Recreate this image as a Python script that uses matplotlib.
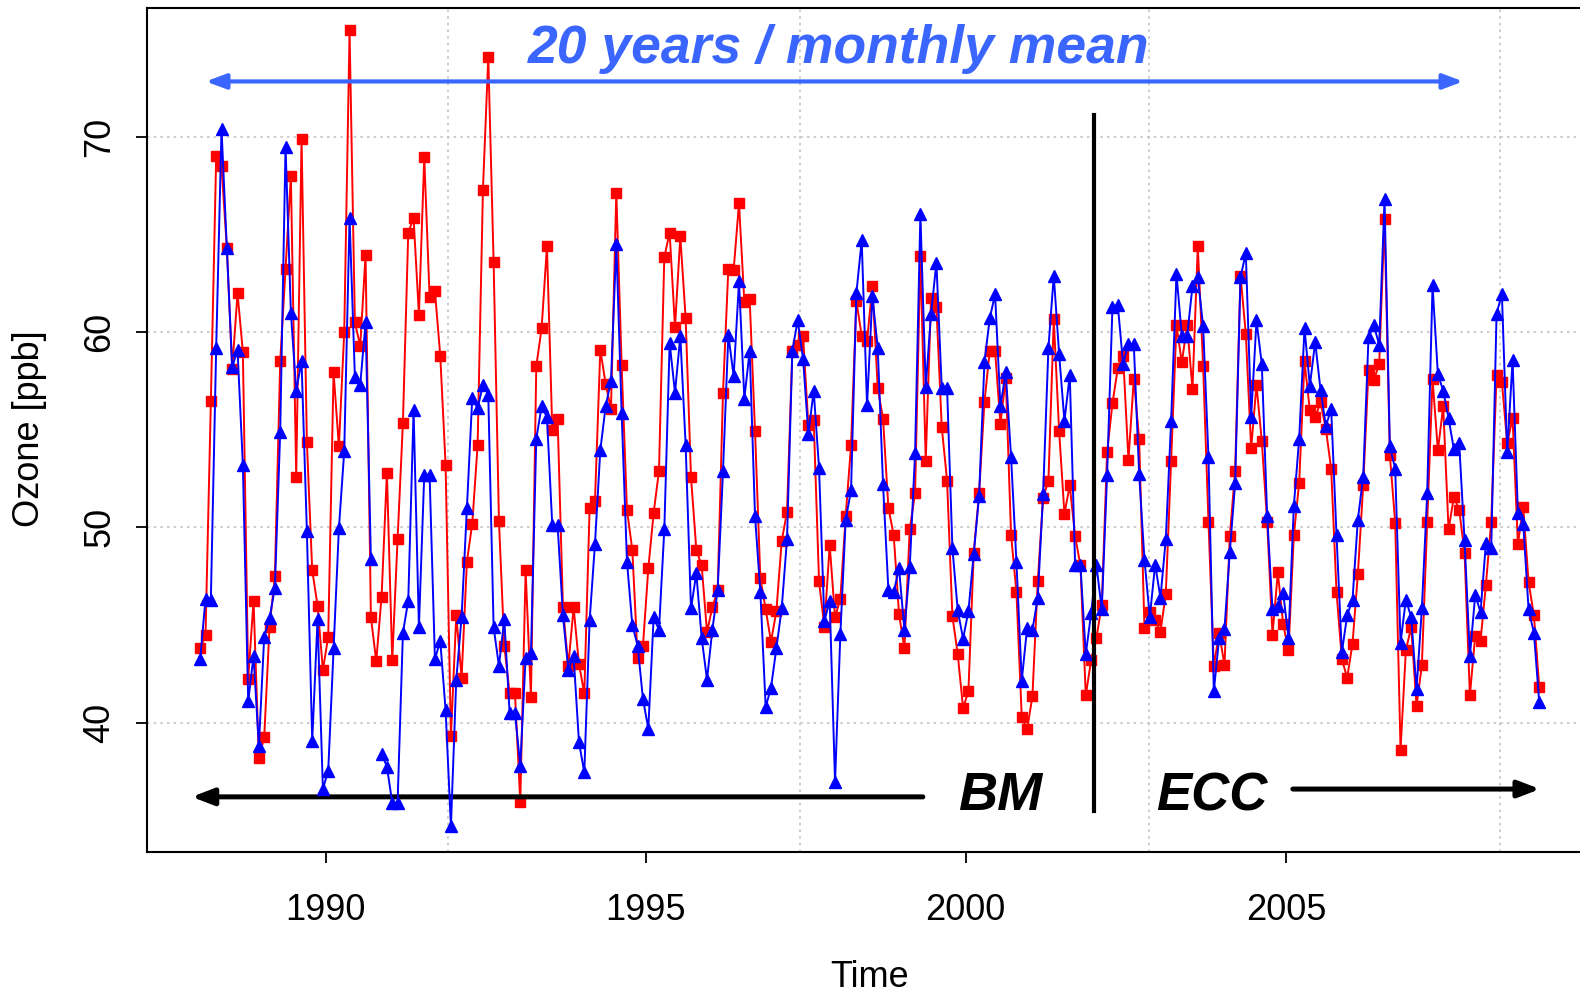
import numpy as np
import matplotlib
matplotlib.use("Agg")
import matplotlib.pyplot as plt

plt.rcParams['font.family'] = ['Liberation Sans', 'DejaVu Sans']

# monthly mean ozone, Jan 1988 - Dec 2008
start_year = 1988
red_ppb = [
    43.8, 44.5, 56.45, 69.0, 68.5, 64.3, 58.1, 62.0, 59.0, 42.25, 46.25, 38.2,
    39.25, 44.9, 47.5, 58.5, 63.25, 68.0, 52.6, 69.9, 54.35, 47.8, 46.0, 42.7,
    44.4, 57.95, 54.15, 60.0, 75.45, 60.5, 59.3, 63.95, 45.4, 43.15, 46.45, 52.8,
    43.2, 49.4, 55.35, 65.1, 65.85, 60.9, 68.95, 61.8, 62.1, 58.8, 53.2, 39.3,
    45.5, 42.3, 48.25, 50.2, 54.2, 67.3, 74.1, 63.6, 50.35, 43.95, 41.5, 41.5,
    35.95, 47.8, 41.3, 58.25, 60.2, 64.4, 55.0, 55.55, 45.9, 42.9, 45.9, 43.0,
    41.5, 51.0, 51.35, 59.1, 57.35, 56.05, 67.15, 58.3, 50.9, 48.85, 43.3, 43.95,
    47.9, 50.75, 52.9, 63.85, 65.1, 60.25, 64.9, 60.7, 52.6, 48.85, 48.05, 44.65,
    45.9, 46.8, 56.9, 63.25, 63.2, 66.6, 61.55, 61.7, 54.95, 47.4, 45.8, 44.15,
    45.7, 49.3, 50.8, 59.05, 59.35, 59.8, 55.25, 55.5, 47.25, 44.9, 49.1, 45.4,
    46.35, 50.6, 54.2, 61.6, 59.8, 59.55, 62.35, 57.15, 55.55, 51.0, 49.6, 45.55,
    43.8, 49.9, 51.75, 63.9, 53.4, 61.75, 61.3, 55.15, 52.4, 45.45, 43.5, 40.75,
    41.6, 48.7, 51.75, 56.4, 59.05, 59.05, 55.3, 57.65, 49.6, 46.7, 40.3, 39.65,
    41.35, 47.25, 51.5, 52.4, 60.65, 54.95, 50.7, 52.15, 49.55, 48.05, 41.4, 43.2,
    44.35, 46.05, 53.85, 56.35, 58.15, 58.8, 53.45, 57.6, 54.55, 44.85, 45.65, 45.25,
    44.65, 46.6, 53.4, 60.35, 58.45, 60.35, 57.1, 64.4, 58.25, 50.3, 42.9, 44.6,
    42.95, 49.55, 52.9, 62.9, 59.9, 54.05, 57.3, 54.4, 50.3, 44.5, 47.7, 45.05,
    43.7, 49.6, 52.3, 58.5, 56.0, 55.65, 56.4, 55.05, 53.0, 46.7, 43.25, 42.3,
    44.05, 47.6, 52.15, 58.05, 57.55, 58.35, 65.8, 53.7, 50.25, 38.6, 43.7, 44.9,
    40.85, 42.95, 50.3, 57.6, 53.95, 56.2, 49.9, 51.55, 50.9, 48.7, 41.4, 44.45,
    44.2, 47.05, 50.3, 57.8, 57.45, 54.3, 55.6, 49.15, 51.05, 47.2, 45.5, 41.85,
]
blue_ppb = [
    43.25, 46.35, 46.3, 59.2, 70.4, 64.3, 58.2, 59.1, 53.2, 41.1, 43.4, 38.8,
    44.4, 45.35, 46.9, 54.9, 69.5, 61.0, 57.0, 58.5, 49.8, 39.05, 45.3, 36.6,
    37.55, 43.8, 49.95, 53.9, 65.85, 57.7, 57.3, 60.5, 48.4, np.nan, 38.4, 37.75,
    35.9, 35.9, 44.6, 46.25, 56.0, 44.9, 52.7, 52.7, 43.25, 44.2, 40.65, 34.7,
    42.2, 45.4, 51.0, 56.65, 56.1, 57.3, 56.8, 44.9, 42.9, 45.3, 40.5, 40.5,
    37.8, 43.3, 43.55, 54.55, 56.2, 55.65, 50.1, 50.1, 45.5, 42.7, 43.4, 39.0,
    37.45, 45.25, 49.15, 53.95, 56.2, 57.5, 64.5, 55.85, 48.25, 45.0, 43.95, 41.2,
    39.7, 45.4, 44.75, 49.9, 59.45, 56.9, 59.8, 54.2, 45.85, 47.65, 44.35, 42.2,
    44.75, 46.8, 52.9, 59.85, 57.75, 62.6, 56.6, 59.05, 50.6, 46.7, 40.8, 41.8,
    43.8, 45.85, 49.4, 59.05, 60.6, 58.65, 54.8, 57.0, 53.05, 45.2, 46.25, 36.95,
    44.55, 50.4, 51.9, 62.0, 64.7, 56.25, 61.85, 59.2, 52.2, 46.8, 46.7, 47.9,
    44.75, 47.95, 53.8, 66.05, 57.2, 60.95, 63.55, 57.15, 57.15, 48.95, 45.75, 44.3,
    45.7, 48.65, 51.6, 58.45, 60.7, 61.95, 56.2, 57.95, 53.6, 48.25, 42.15, 44.85,
    44.75, 46.4, 51.7, 59.2, 62.9, 58.9, 55.45, 57.8, 48.1, 48.05, 43.5, 45.6,
    48.05, 45.8, 52.7, 61.3, 61.4, 58.35, 59.4, 59.4, 52.75, 48.35, 45.4, 48.1,
    46.4, 49.4, 55.45, 63.0, 59.8, 59.8, 62.35, 62.8, 60.3, 53.6, 41.6, 44.35,
    44.8, 48.75, 52.25, 62.8, 64.05, 55.65, 60.6, 58.35, 50.6, 45.8, 46.0, 46.65,
    44.35, 51.1, 54.55, 60.2, 57.25, 59.5, 57.05, 55.2, 56.05, 49.6, 43.6, 45.5,
    46.3, 50.4, 52.6, 59.75, 60.35, 59.35, 66.8, 54.15, 53.0, 44.1, 46.3, 45.4,
    41.7, 45.85, 51.75, 62.4, 57.85, 57.0, 55.6, 54.0, 54.3, 49.35, 43.4, 46.55,
    45.65, 49.2, 48.95, 60.95, 61.95, 53.85, 58.55, 50.75, 50.2, 45.8, 44.6, 41.05,
]

x_ticks = [1990, 1995, 2000, 2005]
y_ticks = [40, 50, 60, 70]
x_grid = [1991.92, 1997.41, 2002.87, 2008.34]
switch_year = 2002.0

# time axis: mid-month positions
t = start_year + (np.arange(len(red_ppb)) + 0.5) / 12.0

fig = plt.figure(figsize=(15.8, 9.92), dpi=100)
ax = fig.add_axes([0.0928, 0.1416, 0.9153, 0.8503])

# dotted grid
grid_style = dict(color='#c4c4c4', lw=1.2, linestyle=(0, (1.5, 2.5)), zorder=0)
for y in y_ticks:
    ax.axhline(y, **grid_style)
for x in x_grid:
    ax.axvline(x, **grid_style)

ax.plot(t, red_ppb, color='#ff0000', lw=1.4, marker='s', ms=6.7,
        mec='#ff0000', mfc='#ff0000', zorder=3)
ax.plot(t, blue_ppb, color='#0000ff', lw=1.4, marker='^', ms=8.6,
        mec='#0000ff', mfc='#0000ff', zorder=4)

ax.set_xlim(1987.205, 2009.795)
ax.set_ylim(33.4, 76.6)

# BM / ECC annotation
ax.plot([switch_year, switch_year], [35.47, 71.13], color='black', lw=3, zorder=5)
ax.annotate('', xy=(1987.91, 36.2), xytext=(1999.33, 36.2),
            arrowprops=dict(arrowstyle='-|>,head_length=1.3,head_width=0.5',
                            lw=3.6, color='black', shrinkA=0, shrinkB=0))
ax.annotate('', xy=(2008.97, 36.6), xytext=(2005.11, 36.6),
            arrowprops=dict(arrowstyle='-|>,head_length=1.3,head_width=0.5',
                            lw=3.6, color='black', shrinkA=0, shrinkB=0))
ax.text(2000.54, 35.52, 'BM', fontsize=39, fontweight='bold', style='italic',
        ha='center', va='baseline')
ax.text(2003.84, 35.52, 'ECC', fontsize=38, fontweight='bold', style='italic',
        ha='center', va='baseline')

# 20-year span arrow and title
ax.annotate('', xy=(1988.13, 72.84), xytext=(2007.77, 72.84),
            arrowprops=dict(arrowstyle='<|-|>,head_length=1.2,head_width=0.45',
                            lw=3, color='#3a66ff', shrinkA=0, shrinkB=0))
ax.text(1998.02, 73.76, '20 years / monthly mean', fontsize=38.5,
        fontweight='bold', style='italic', color='#3a66ff',
        ha='center', va='baseline')

ax.set_xticks(x_ticks)
ax.set_xticklabels([str(v) for v in x_ticks])
ax.set_yticks(y_ticks)
ax.set_yticklabels([str(v) for v in y_ticks], rotation=90, va='center')
ax.tick_params(axis='both', labelsize=26, length=8, width=1.3, direction='out')
ax.tick_params(axis='x', pad=22)
ax.tick_params(axis='y', pad=13)

for s in ax.spines.values():
    s.set_linewidth(1.5)

fig.text(30 / 1580, 1 - 429 / 992, 'Ozone [ppb]', fontsize=26, rotation=90,
         ha='center', va='center')
fig.text(0.5505, 1 - 987 / 992, 'Time', fontsize=26, ha='center', va='baseline')

fig.savefig('out.png', dpi=100)
